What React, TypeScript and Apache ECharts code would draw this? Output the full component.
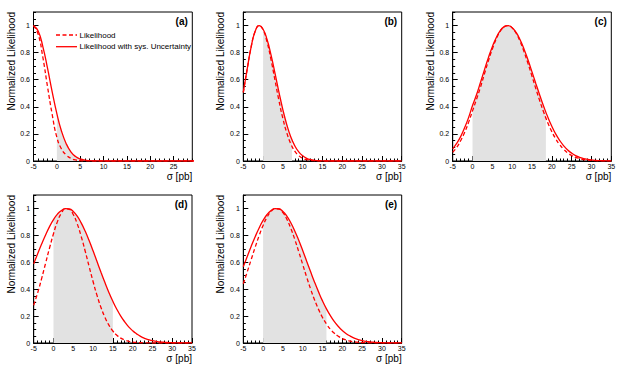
import { useEffect, useRef } from "react";
import * as echarts from "echarts";

// sigma grid [pb]
const sigmaGrid = [-5, -4, -3, -2, -1, 0, 1, 2, 3, 4, 5, 6, 7, 8, 9, 10, 11, 12, 13, 14, 15, 16, 17, 18, 19, 20, 21, 22, 23, 24, 25, 26, 27, 28, 29, 30, 31, 32, 33, 34, 35];

// (a)
const likelihoodA = [1.0, 0.936, 0.766, 0.549, 0.344, 0.175, 0.088, 0.045, 0.02, 0.008, 0.003, 0.001, 0.0003, 0, 0, 0, 0, 0, 0, 0, 0, 0, 0, 0, 0, 0, 0, 0, 0, 0, 0, 0, 0, 0, 0, 0, 0, 0, 0, 0, 0];
const likelihoodSysA = [1.0, 0.959, 0.845, 0.685, 0.511, 0.35, 0.22, 0.128, 0.068, 0.033, 0.015, 0.006, 0.0024, 0.001, 0.0003, 0, 0, 0, 0, 0, 0, 0, 0, 0, 0, 0, 0, 0, 0, 0, 0, 0, 0, 0, 0, 0, 0, 0, 0, 0, 0];
// (b)
const likelihoodB = [0.506, 0.682, 0.844, 0.958, 1.0, 0.968, 0.879, 0.748, 0.597, 0.446, 0.313, 0.206, 0.127, 0.073, 0.04, 0.02, 0.0096, 0.0043, 0.0018, 0.0007, 0, 0, 0, 0, 0, 0, 0, 0, 0, 0, 0, 0, 0, 0, 0, 0, 0, 0, 0, 0, 0];
const likelihoodSysB = [0.506, 0.682, 0.844, 0.958, 1.0, 0.973, 0.897, 0.784, 0.649, 0.509, 0.378, 0.266, 0.177, 0.112, 0.067, 0.038, 0.02, 0.01, 0.005, 0.002, 0.001, 0, 0, 0, 0, 0, 0, 0, 0, 0, 0, 0, 0, 0, 0, 0, 0, 0, 0, 0, 0];
// (c)
const likelihoodC = [0.065, 0.1, 0.15, 0.21, 0.285, 0.37, 0.455, 0.544, 0.643, 0.739, 0.827, 0.902, 0.958, 0.992, 1.0, 0.983, 0.943, 0.883, 0.806, 0.719, 0.626, 0.531, 0.44, 0.356, 0.281, 0.217, 0.163, 0.12, 0.086, 0.06, 0.041, 0.027, 0.018, 0.011, 0.007, 0.004, 0.0025, 0.0014, 0.0008, 0.0004, 0.0002];
const likelihoodSysC = [0.09, 0.13, 0.18, 0.245, 0.32, 0.41, 0.489, 0.58, 0.673, 0.763, 0.844, 0.912, 0.963, 0.992, 1.0, 0.983, 0.949, 0.895, 0.826, 0.745, 0.658, 0.569, 0.482, 0.399, 0.323, 0.256, 0.198, 0.151, 0.112, 0.081, 0.058, 0.04, 0.027, 0.018, 0.012, 0.0076, 0.0047, 0.0029, 0.0017, 0.001, 0.0006];
// (d)
const likelihoodD = [0.281, 0.373, 0.479, 0.592, 0.706, 0.812, 0.902, 0.965, 0.997, 0.994, 0.955, 0.886, 0.792, 0.684, 0.569, 0.457, 0.354, 0.264, 0.191, 0.133, 0.089, 0.058, 0.036, 0.022, 0.0126, 0.007, 0.0038, 0.002, 0.001, 0.0005, 0, 0, 0, 0, 0, 0, 0, 0, 0, 0, 0];
const likelihoodSysD = [0.588, 0.663, 0.735, 0.803, 0.865, 0.917, 0.958, 0.985, 0.999, 0.997, 0.978, 0.943, 0.893, 0.832, 0.761, 0.685, 0.605, 0.526, 0.449, 0.376, 0.31, 0.251, 0.2, 0.157, 0.12, 0.091, 0.068, 0.049, 0.035, 0.025, 0.017, 0.012, 0.0079, 0.0052, 0.0034, 0.0021, 0.0013, 0.0008, 0.0005, 0.0003, 0.0002];
// (e)
const likelihoodE = [0.44, 0.529, 0.621, 0.712, 0.798, 0.874, 0.935, 0.977, 0.998, 0.996, 0.969, 0.92, 0.852, 0.77, 0.679, 0.584, 0.49, 0.401, 0.32, 0.25, 0.19, 0.141, 0.102, 0.072, 0.05, 0.033, 0.022, 0.014, 0.0087, 0.0053, 0.0031, 0.0018, 0.001, 0.0006, 0.0003, 0.0002, 0, 0, 0, 0, 0];
const likelihoodSysE = [0.566, 0.643, 0.719, 0.79, 0.855, 0.911, 0.955, 0.984, 0.999, 0.997, 0.978, 0.943, 0.894, 0.833, 0.763, 0.687, 0.608, 0.529, 0.452, 0.38, 0.313, 0.254, 0.203, 0.159, 0.123, 0.093, 0.069, 0.051, 0.036, 0.026, 0.018, 0.012, 0.0082, 0.0054, 0.0035, 0.0022, 0.0014, 0.0009, 0.0005, 0.0003, 0.0002];

const panelLabels = ["(a)", "(b)", "(c)", "(d)", "(e)"];
const likelihoods = [likelihoodA, likelihoodB, likelihoodC, likelihoodD, likelihoodE];
const likelihoodsSys = [likelihoodSysA, likelihoodSysB, likelihoodSysC, likelihoodSysD, likelihoodSysE];
const lowerLimits = [0, 0, 0, 0, 0];
const upperLimits = [5.0, 7.3, 18.5, 15.0, 16.0];
const xMinValues = [-5, -5, -5, -5, -5];
const xMaxValues = [29, 35, 35, 35, 35];
const yTitle = "Normalized Likelihood";
const xTitle = "σ [pb]";
const legendNames = ["Likelihood", "Likelihood with sys. Uncertainty"];

// layout (pixels)
const layouts = [
  { left: 33.5, top: 12, width: 158.8, height: 149, yTitleX: 11 },
  { left: 243.3, top: 12, width: 158.4, height: 149, yTitleX: 220.7 },
  { left: 452.7, top: 12, width: 158.6, height: 149, yTitleX: 430.7 },
  { left: 33.7, top: 195, width: 158.3, height: 148, yTitleX: 11 },
  { left: 243.3, top: 195, width: 158.4, height: 148, yTitleX: 220.7 },
];

const RED = "#ff0000";
const FILL = "#e2e2e2";
const FONT = "'Liberation Sans', Arial, Helvetica, sans-serif";

function interp(xs: number[], ys: number[], x: number): number {
  for (let i = 0; i < xs.length - 1; i++) {
    if (x >= xs[i] && x <= xs[i + 1]) {
      const t = (x - xs[i]) / (xs[i + 1] - xs[i]);
      return ys[i] + t * (ys[i + 1] - ys[i]);
    }
  }
  return 0;
}

function fillData(xs: number[], ys: number[], lo: number, hi: number) {
  const out: number[][] = [[lo, interp(xs, ys, lo)]];
  xs.forEach((x, i) => {
    if (x > lo && x < hi) out.push([x, ys[i]]);
  });
  out.push([hi, interp(xs, ys, hi)]);
  return out;
}

export default function App() {
  const ref = useRef<HTMLDivElement>(null);
  useEffect(() => {
    if (!ref.current) return;
    const chart = echarts.init(ref.current, undefined, { renderer: "svg" });

    const grids: any[] = [];
    const xAxes: any[] = [];
    const yAxes: any[] = [];
    const series: any[] = [];
    const graphics: any[] = [];

    layouts.forEach((L, i) => {
      grids.push({
        left: L.left, top: L.top, width: L.width, height: L.height,
        show: true, borderColor: "#000", borderWidth: 1, backgroundColor: "transparent",
        containLabel: false, outerBoundsMode: "none",
      });
      // main x axis
      xAxes.push({
        type: "value", gridIndex: i, position: "bottom",
        min: xMinValues[i], max: xMaxValues[i], interval: 5,
        axisLine: { show: true, onZero: false, lineStyle: { color: "#000", width: 1 } },
        axisTick: { show: true, inside: true, length: 5, lineStyle: { color: "#000", width: 1 } },
        axisLabel: { show: true, fontSize: 7, color: "#000", margin: 1.5, fontFamily: FONT, showMaxLabel: xMaxValues[i] % 5 === 0 },
        splitLine: { show: false },
      });
      // minor-tick x axis
      xAxes.push({
        type: "value", gridIndex: i, position: "bottom",
        min: xMinValues[i], max: xMaxValues[i], interval: 1,
        axisLine: { show: false, onZero: false },
        axisTick: { show: true, inside: true, length: 2.5, lineStyle: { color: "#000", width: 1 } },
        axisLabel: { show: false },
        splitLine: { show: false },
      });
      yAxes.push({
        type: "value", gridIndex: i, position: "left",
        min: 0, max: 1.1, interval: 0.2,
        axisLine: { show: true, onZero: false, lineStyle: { color: "#000", width: 1 } },
        axisTick: { show: true, inside: true, length: 5, lineStyle: { color: "#000", width: 1 } },
        axisLabel: { show: true, fontSize: 7, color: "#000", margin: 3.5, fontFamily: FONT, showMaxLabel: false },
        splitLine: { show: false },
      });
      yAxes.push({
        type: "value", gridIndex: i, position: "left",
        min: 0, max: 1.1, interval: 0.05,
        axisLine: { show: false, onZero: false },
        axisTick: { show: true, inside: true, length: 2.5, lineStyle: { color: "#000", width: 1 } },
        axisLabel: { show: false },
        splitLine: { show: false },
      });

      const solid = likelihoodsSys[i];
      const dashed = likelihoods[i];
      series.push({
        type: "line", xAxisIndex: 2 * i, yAxisIndex: 2 * i,
        data: fillData(sigmaGrid, solid, lowerLimits[i], upperLimits[i]),
        smooth: true, showSymbol: false, silent: true, z: 1,
        lineStyle: { width: 0, opacity: 0 },
        areaStyle: { color: FILL, opacity: 1 },
      });
      series.push({
        name: legendNames[0],
        type: "line", xAxisIndex: 2 * i, yAxisIndex: 2 * i,
        data: sigmaGrid.map((x, k) => [x, dashed[k]]),
        smooth: true, showSymbol: false, silent: true, z: 2,
        lineStyle: { color: RED, width: 1.3, type: [4, 2.5] },
      });
      series.push({
        name: legendNames[1],
        type: "line", xAxisIndex: 2 * i, yAxisIndex: 2 * i,
        data: sigmaGrid.map((x, k) => [x, solid[k]]),
        smooth: true, showSymbol: false, silent: true, z: 3,
        lineStyle: { color: RED, width: 1.3, type: "solid" },
      });

      const right = L.left + L.width;
      const bottom = L.top + L.height;
      graphics.push({
        type: "text", x: L.yTitleX, y: L.top, rotation: Math.PI / 2,
        style: { text: yTitle, align: "right", verticalAlign: "middle", fontSize: 10, fontFamily: FONT, fill: "#000" },
      });
      graphics.push({
        type: "text", x: right, y: bottom + 15,
        style: { text: xTitle, align: "right", verticalAlign: "middle", fontSize: 10, fontFamily: FONT, fill: "#000" },
      });
      graphics.push({
        type: "text", x: right - 4.5, y: L.top + 9,
        style: { text: panelLabels[i], align: "right", verticalAlign: "middle", fontSize: 10, fontWeight: "bold", fontFamily: FONT, fill: "#000" },
      });
    });

    // legend inside panel (a)
    const lg = layouts[0];
    const lx = lg.left + 22.5;
    const ly1 = lg.top + 23;
    const ly2 = lg.top + 34.7;
    graphics.push({ type: "line", shape: { x1: lx, y1: ly1, x2: lx + 21, y2: ly1 }, style: { stroke: RED, lineWidth: 1.3, lineDash: [4, 2.5] } });
    graphics.push({ type: "text", x: lx + 23.5, y: ly1, style: { text: legendNames[0], align: "left", verticalAlign: "middle", fontSize: 8, fontFamily: FONT, fill: "#000" } });
    graphics.push({ type: "line", shape: { x1: lx, y1: ly2, x2: lx + 21, y2: ly2 }, style: { stroke: RED, lineWidth: 1.3 } });
    graphics.push({ type: "text", x: lx + 23.5, y: ly2, style: { text: legendNames[1], align: "left", verticalAlign: "middle", fontSize: 8, fontFamily: FONT, fill: "#000" } });

    chart.setOption({
      animation: false,
      backgroundColor: "#ffffff",
      grid: grids,
      xAxis: xAxes,
      yAxis: yAxes,
      series,
      graphic: { elements: graphics },
    });
    return () => chart.dispose();
  }, []);
  return <div ref={ref} style={{ position: "fixed", left: 0, top: 0, width: 630, height: 365 }} />;
}
